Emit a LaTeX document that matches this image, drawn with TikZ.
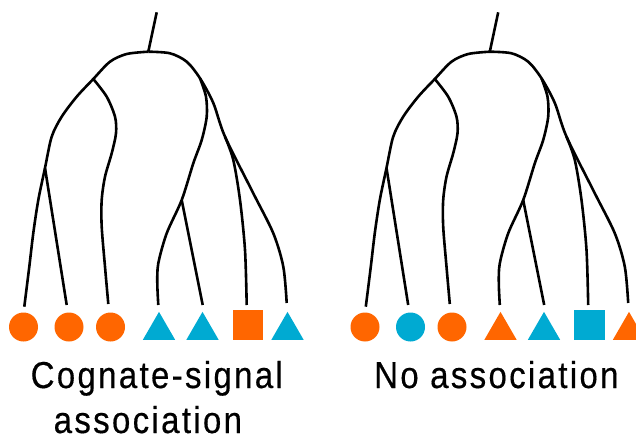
\documentclass[tikz,border=0pt]{standalone}
\usepackage{fontspec}
\setmainfont{Liberation Sans}[FakeStretch=0.88,LetterSpace=6.2,FakeBold=0.4]
\usetikzlibrary{shapes.geometric}
\definecolor{org}{RGB}{255,102,0}
\definecolor{cyn}{RGB}{0,170,210}
\tikzset{
  branch/.style={line width=2.6pt, black},
  leafcirc/.style={circle, fill=#1, minimum size=29pt, inner sep=0pt},
  leaftri/.style={regular polygon, regular polygon sides=3, fill=#1, minimum size=37.5pt, inner sep=0pt},
  leafsq/.style={rectangle, fill=#1, minimum size=30.5pt, inner sep=0pt},
  lab/.style={inner sep=0pt, font=\fontsize{37.5}{44}\selectfont}
}
\newcommand\mytree[1]{%
  \coordinate (#1top) at (156.7,12.3);
  \coordinate (#1R) at (148.3,51.7);
  \coordinate (#1L1) at (93.3,79);
  \coordinate (#1L2) at (45,168);
  \coordinate (#1R1) at (200,78.3);
  \coordinate (#1R2) at (181.7,200);
  \coordinate (#1R3) at (225,136.7);
  \coordinate (#1t1) at (24.3,306.7);
  \coordinate (#1t2) at (66.7,305);
  \coordinate (#1t3) at (108.3,304);
  \coordinate (#1t4) at (158.3,305);
  \coordinate (#1t5) at (202.7,305);
  \coordinate (#1t6) at (246.7,305);
  \coordinate (#1t7) at (286.7,303);
  \draw[branch] (#1top) -- (#1R);
  \draw[branch] plot[smooth] coordinates {(#1R) (126.7,54) (110,61.7) (#1L1) (76.7,96.7) (61.7,116.7) (51.7,136.7) (#1L2) (38.3,200) (33.3,233) (29.3,266.7) (#1t1)};
  \draw[branch] plot[smooth] coordinates {(#1R) (170,53.3) (186.7,61.7) (#1R1) (213.3,103) (#1R3) (253.3,193.3) (273.3,233.3) (283.3,266.7) (#1t7)};
  \draw[branch] plot[smooth] coordinates {(#1L1) (106.7,96.7) (115,116.7) (116,133.3) (111.7,153.3) (105,176.7) (101.7,200) (101.7,226.7) (105,266.7) (#1t3)};
  \draw[branch] plot[smooth] coordinates {(#1R1) (206,96.7) (206.7,116.7) (201.7,140) (193.3,163.3) (#1R2) (166.7,233.3) (158.3,263.3) (157.3,283.3) (#1t4)};
  \draw[branch] plot[smooth] coordinates {(#1R3) (233.3,160) (240,200) (245,250) (#1t6)};
  \draw[branch] (#1L2) -- (#1t2);
  \draw[branch] (#1R2) -- (#1t5);
}
\begin{document}
\begin{tikzpicture}[x=1pt,y=-1pt]
\useasboundingbox (0,0) rectangle (636,438);
\clip (0,0) rectangle (636,438);
\begin{scope}
  \mytree{a}
  \node[leafcirc=org] (a1) at (23.5,327) {};
  \node[leafcirc=org] (a2) at (69,327) {};
  \node[leafcirc=org] (a3) at (110.5,327) {};
  \node[leaftri=cyn] (a4) at (159,330.6) {};
  \node[leaftri=cyn] (a5) at (202.5,330.6) {};
  \node[leafsq=org] (a6) at (248,325) {};
  \node[leaftri=cyn] (a7) at (287.5,330.6) {};
\end{scope}
\begin{scope}[xshift=341.5pt]
  \mytree{b}
  \node[leafcirc=org] (b1) at (23.5,327) {};
  \node[leafcirc=cyn] (b2) at (69,327) {};
  \node[leafcirc=org] (b3) at (110.5,327) {};
  \node[leaftri=org] (b4) at (159,330.6) {};
  \node[leaftri=cyn] (b5) at (202.5,330.6) {};
  \node[leafsq=cyn] (b6) at (248,325) {};
  \node[leaftri=org] (b7) at (287.5,330.6) {};
\end{scope}
\node[lab, anchor=base west] (lab1) at (30.5,388) {Cognate-signal};
\node[lab, anchor=base west] (lab2) at (53.5,433) {association};
\node[lab, anchor=base west] (lab3) at (374,388) {No association};
\end{tikzpicture}
\end{document}
